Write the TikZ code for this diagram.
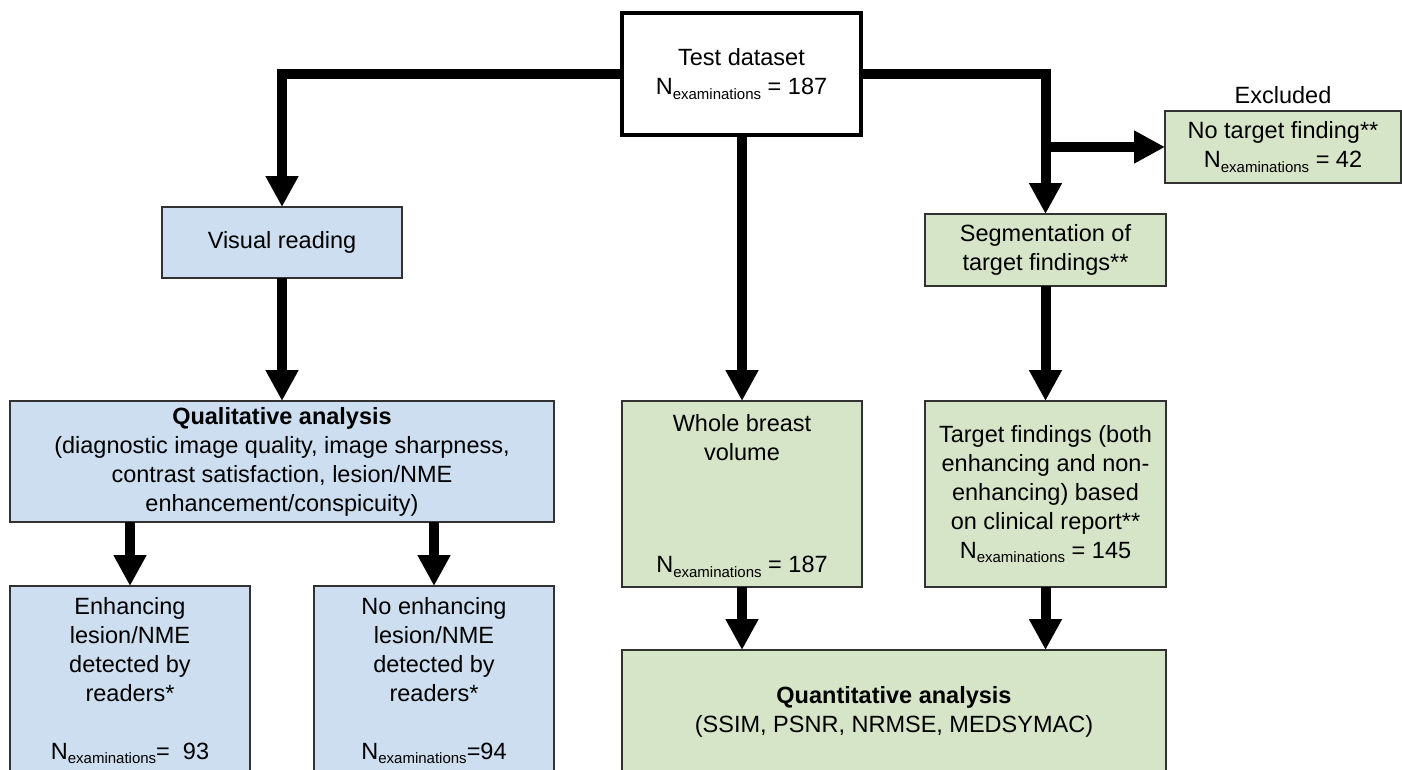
\documentclass[tikz,border=0pt]{standalone}
\usepackage{fontspec}
\setmainfont{Liberation Sans}
\usetikzlibrary{arrows.meta}
\definecolor{boxblue}{RGB}{204,222,239}
\definecolor{boxgreen}{RGB}{214,228,200}
\definecolor{boxline}{RGB}{50,50,50}
\newcommand{\Nexam}{N\raisebox{-4.5pt}{\fontsize{15}{15}\selectfont examinations}}
\tikzset{
  basebox/.style={rectangle, inner sep=0pt, outer sep=0pt, align=center,
    font=\fontsize{23.5}{29}\selectfont},
  bluebox/.style={basebox, fill=boxblue, draw=boxline, line width=1.5pt},
  greenbox/.style={basebox, fill=boxgreen, draw=boxline, line width=1.5pt},
  whitebox/.style={basebox, fill=white, draw=black, line width=4pt},
  txt/.style={inner sep=0pt, align=center, font=\fontsize{23.5}{29}\selectfont},
  flow/.style={line width=10pt, line join=miter, draw=black,
    -{Triangle[width=31pt,length=31pt]}},
}
\begin{document}
\begin{tikzpicture}[x=1pt,y=-1pt]
\useasboundingbox (0,0) rectangle (1402,769);
\clip (0,0) rectangle (1402,769);

% boxes
\node[whitebox, minimum width=239pt, minimum height=122pt] (test) at (741.5,74)
  {Test dataset\\\Nexam{} = 187};
\node[bluebox, minimum width=240pt, minimum height=71pt] (visual) at (282,242.5)
  {Visual reading};
\node[bluebox, minimum width=544pt, minimum height=121pt] (qual) at (282,461.5)
  {\textbf{Qualitative analysis}\\(diagnostic image quality, image sharpness,\\contrast satisfaction, lesion/NME\\enhancement/conspicuity)};
\node[bluebox, minimum width=240pt, minimum height=220pt] (enh) at (130,696) {};
\node[bluebox, minimum width=240pt, minimum height=220pt] (noenh) at (434,696) {};
\node[greenbox, minimum width=240pt, minimum height=186pt] (whole) at (742,494) {};
\node[greenbox, minimum width=241pt, minimum height=72pt] (seg) at (1045.5,250)
  {Segmentation of\\target findings**};
\node[greenbox, minimum width=236pt, minimum height=72pt] (excl) at (1283,147)
  {No target finding**\\\Nexam{} = 42};
\node[greenbox, minimum width=241pt, minimum height=186pt] (target) at (1045.5,494)
  {Target findings (both\\enhancing and non-\\enhancing) based\\on clinical report**\\\Nexam{} = 145};
\node[greenbox, minimum width=544pt, minimum height=160pt] (quant) at (894,730) {};

% free texts
\node[txt] (excllabel) at (1283,95) {Excluded};
\node[txt, anchor=north] (enhtxt) at (130,597)
  {Enhancing\\lesion/NME\\detected by\\readers*\\[29pt]\Nexam{}=~~93};
\node[txt, anchor=north] (noenhtxt) at (434,597)
  {No enhancing\\lesion/NME\\detected by\\readers*\\[29pt]\Nexam{}=94};
\node[txt] (wholetop) at (742,438) {Whole breast\\volume};
\node[txt] (wholebot) at (742,567) {\Nexam{} = 187};
\node[txt] (quanttxt) at (894,712)
  {\textbf{Quantitative analysis}\\(SSIM, PSNR, NRMSE, MEDSYMAC)};

% connectors
\coordinate (br) at (seg.north |- excl.west);
\draw[flow] (test.west) -| (visual.north);
\draw[flow] (test.east) -| (seg.north);
\draw[flow] (br) -- (excl.west);
\draw[flow] (whole.north |- test.south) -- (whole.north);
\draw[flow] (visual.south) -- (qual.north);
\draw[flow] (qual.south -| enh.north) -- (enh.north);
\draw[flow] (qual.south -| noenh.north) -- (noenh.north);
\draw[flow] (seg.south) -- (target.north);
\draw[flow] (whole.south) -- (whole.south |- quant.north);
\draw[flow] (target.south) -- (target.south |- quant.north);
\end{tikzpicture}
\end{document}
